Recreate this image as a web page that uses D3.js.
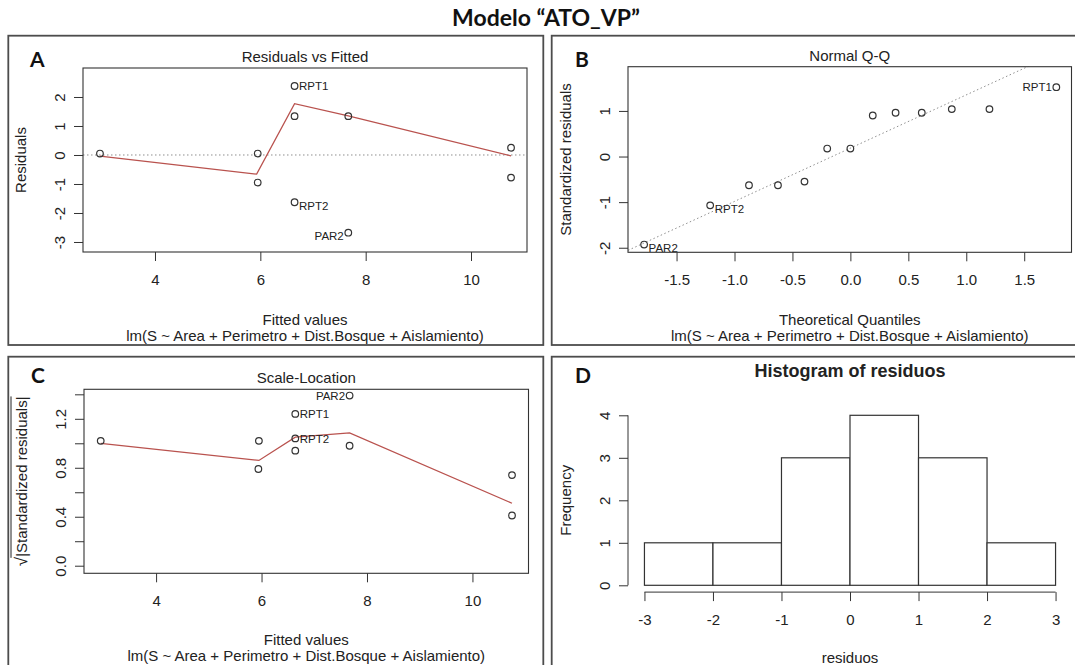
<!DOCTYPE html>
<html><head><meta charset="utf-8">
<script src="https://cdn.jsdelivr.net/npm/d3@7"></script>
<style>
body{margin:0;background:#fff}
svg{display:block}
text{font-family:"Liberation Sans",Arial,sans-serif;fill:#222}
</style>
</head><body><svg id="c" width="1075" height="665"></svg>
<script>
// ---------------- DATA ----------------
const mainTitle = "Modelo \u201CATO_VP\u201D";
const formula = "lm(S ~ Area + Perimetro + Dist.Bosque + Aislamiento)";

// A: Residuals vs Fitted
const fittedA = [2.955, 5.95, 5.95, 6.65, 6.65, 6.65, 7.67, 7.67, 10.76, 10.76];
const residA  = [0.05, 0.05, -0.95, 2.38, 1.34, -1.63, 1.34, -2.68, 0.25, -0.78];
const idA     = ["", "", "", "RPT1", "", "RPT2", "", "PAR2", "", ""];
const lowessAx = [2.955, 5.93, 6.65, 7.67, 10.76];
const lowessAy = [-0.04, -0.66, 1.77, 1.35, -0.03];
const xTicksFit = [4, 6, 8, 10];
const xTickLabelsFit = ["4", "6", "8", "10"];
const yTicksA = [-3, -2, -1, 0, 1, 2];
const yTickLabelsA = ["-3", "-2", "-1", "0", "1", "2"];

// B: Normal Q-Q
const theoQ = [-1.78, -1.21, -0.875, -0.625, -0.396, -0.2, 0, 0.193, 0.39, 0.616, 0.875, 1.2, 1.777];
const stdRes = [-1.93, -1.07, -0.63, -0.63, -0.55, 0.175, 0.175, 0.90, 0.96, 0.96, 1.04, 1.04, 1.52];
const idB    = ["PAR2", "RPT2", "", "", "", "", "", "", "", "", "", "", "RPT1"];
const qqIntercept = 0.184;
const qqSlope = 1.168;
const xTicksB = [-1.5, -1.0, -0.5, 0.0, 0.5, 1.0, 1.5];
const xTickLabelsB = ["-1.5", "-1.0", "-0.5", "0.0", "0.5", "1.0", "1.5"];
const yTicksB = [-2, -1, 0, 1];
const yTickLabelsB = ["-2", "-1", "0", "1"];

// C: Scale-Location
const fittedC = [2.95, 5.95, 5.94, 6.64, 6.64, 6.64, 7.67, 7.67, 10.75, 10.75];
const sqrtStd = [1.02, 1.02, 0.79, 1.24, 1.04, 0.94, 1.39, 0.98, 0.74, 0.41];
const idC     = ["", "", "", "RPT1", "RPT2", "", "PAR2", "", "", ""];
const lowessCx = [2.95, 5.95, 6.64, 7.67, 10.75];
const lowessCy = [1.0, 0.86, 1.05, 1.085, 0.51];
const yTicksC = [0, 0.2, 0.4, 0.6, 0.8, 1.0, 1.2, 1.4];
const yTickLabelsC = ["0.0", "", "0.4", "", "0.8", "", "1.2", ""];

// D: Histogram of residuos
const histBreaks = [-3, -2, -1, 0, 1, 2, 3];
const histCounts = [1, 1, 3, 4, 3, 1];
const xTicksD = [-3, -2, -1, 0, 1, 2, 3];
const xTickLabelsD = ["-3", "-2", "-1", "0", "1", "2", "3"];
const yTicksD = [0, 1, 2, 3, 4];
const yTickLabelsD = ["0", "1", "2", "3", "4"];

// ---------------- DRAW ----------------
const svg = d3.select("#c");
svg.append("rect").attr("width", 1075).attr("height", 665).attr("fill", "#fff");

const FS = 15, INK = "#333", RED = "#b9524e", GRID = "#8f8f8f";

// panel frames
const frames = [
  {x: 8.3, y: 35.7, w: 535, h: 309.3, letter: "A", lx: 30, ly: 67},
  {x: 551.7, y: 35.7, w: 540, h: 309.3, letter: "B", lx: 575, ly: 67},
  {x: 8.3, y: 356.7, w: 535, h: 330, letter: "C", lx: 31, ly: 383},
  {x: 551.7, y: 356.7, w: 540, h: 330, letter: "D", lx: 575, ly: 383}
];
frames.forEach(f => {
  svg.append("rect").attr("x", f.x).attr("y", f.y).attr("width", f.w).attr("height", f.h)
    .attr("fill", "none").attr("stroke", "#4d4d4d").attr("stroke-width", 1.8);
  svg.append("text").attr("x", f.lx).attr("y", f.ly).text(f.letter)
    .style("font-family", "Lato, 'Open Sans', sans-serif").style("font-weight", "bold")
    .style("font-size", "21px").style("fill", "#111");
});

svg.append("text").attr("x", 546).attr("y", 26).attr("text-anchor", "middle").text(mainTitle)
  .style("font-family", "Lato, 'Open Sans', sans-serif").style("font-weight", "bold")
  .style("font-size", "23px").style("fill", "#111");

function bottomAxis(scale, y, ticks, labels, lineSpan) {
  const g = svg.append("g").attr("transform", `translate(0,${y})`);
  g.call(d3.axisBottom(scale).tickValues(ticks).tickSize(9).tickPadding(13)
    .tickFormat((d, i) => labels[i]));
  g.select(".domain").remove();
  g.attr("font-family", null).attr("font-size", null);
  g.selectAll(".tick line").attr("stroke", INK).attr("stroke-width", 1);
  g.selectAll(".tick text").style("font-size", FS + "px").style("fill", "#222");
  if (lineSpan) g.append("line").attr("x1", scale(ticks[0])).attr("x2", scale(ticks[ticks.length - 1]))
    .attr("stroke", INK).attr("stroke-width", 1);
}
function leftAxis(scale, x, ticks, labels, lineSpan) {
  const g = svg.append("g").attr("transform", `translate(${x},0)`);
  g.call(d3.axisLeft(scale).tickValues(ticks).tickSize(9).tickFormat((d, i) => labels[i]));
  g.select(".domain").remove();
  g.attr("font-family", null).attr("font-size", null);
  g.selectAll(".tick line").attr("stroke", INK).attr("stroke-width", 1);
  g.selectAll(".tick text").attr("transform", "rotate(-90)").attr("x", 0).attr("y", -18)
    .attr("dy", 0).attr("text-anchor", "middle").style("font-size", FS + "px").style("fill", "#222");
  if (lineSpan) g.append("line").attr("y1", scale(ticks[0])).attr("y2", scale(ticks[ticks.length - 1]))
    .attr("stroke", INK).attr("stroke-width", 1);
}
function box(b) {
  svg.append("rect").attr("x", b.l).attr("y", b.t).attr("width", b.r - b.l).attr("height", b.b - b.t)
    .attr("fill", "none").attr("stroke", INK).attr("stroke-width", 1.1);
}
function centerText(x, y, str, size, bold) {
  const t = svg.append("text").attr("x", x).attr("y", y).attr("text-anchor", "middle").text(str)
    .style("font-size", size + "px");
  if (bold) t.style("font-weight", "bold");
  return t;
}
function yLabel(x, y, str) {
  return svg.append("text").attr("transform", `translate(${x},${y}) rotate(-90)`)
    .attr("text-anchor", "middle").text(str).style("font-size", FS + "px");
}
function points(g, xs, ys, x, y) {
  g.selectAll(null).data(xs).enter().append("circle")
    .attr("cx", d => x(d)).attr("cy", (d, i) => y(ys[i])).attr("r", 3.3)
    .attr("fill", "none").attr("stroke", "#333").attr("stroke-width", 1.2);
}
function ids(g, xs, ys, names, x, y, dom) {
  const mid = (dom[0] + dom[1]) / 2;
  xs.forEach((d, i) => {
    if (!names[i]) return;
    const right = d < mid;
    g.append("text").attr("x", x(d) + (right ? 4.5 : -4.5))
      .attr("y", y(ys[i]) + (ys[i] < 0 ? 3.5 : 0)).attr("dy", "0.36em")
      .attr("text-anchor", right ? "start" : "end").text(names[i]).style("font-size", "11.5px");
  });
}

// ---- Panel A ----
const bA = {l: 83, r: 527, t: 68, b: 252};
const xA = d3.scaleLinear().domain([2.633, 11.063]).range([bA.l, bA.r]);
const yA = d3.scaleLinear().domain([-3.345, 3.0]).range([bA.b, bA.t]);
const gA = svg.append("g");
gA.append("line").attr("x1", bA.l).attr("x2", bA.r).attr("y1", yA(0)).attr("y2", yA(0))
  .attr("stroke", GRID).attr("stroke-dasharray", "1.5,2.5");
gA.append("path").attr("d", d3.line().x(d => xA(d)).y((d, i) => yA(lowessAy[i]))(lowessAx))
  .attr("fill", "none").attr("stroke", RED).attr("stroke-width", 1.3);
points(gA, fittedA, residA, xA, yA);
ids(gA, fittedA, residA, idA, xA, yA, [2.955, 10.76]);
box(bA);
bottomAxis(xA, bA.b, xTicksFit, xTickLabelsFit);
leftAxis(yA, bA.l, yTicksA, yTickLabelsA);
centerText((bA.l + bA.r) / 2, 61.5, "Residuals vs Fitted", FS);
centerText((bA.l + bA.r) / 2, 324.5, "Fitted values", FS);
centerText((bA.l + bA.r) / 2, 340.5, formula, FS);
yLabel(bA.l - 57, (bA.t + bA.b) / 2, "Residuals");

// ---- Panel B ----
const bB = {l: 628, r: 1071.5, t: 66.7, b: 252.3};
const xB = d3.scaleLinear().domain([-1.919, 1.908]).range([bB.l, bB.r]);
const yB = d3.scaleLinear().domain([-2.10, 1.97]).range([bB.b, bB.t]);
const gB = svg.append("g");
svg.append("clipPath").attr("id", "clipB").append("rect")
  .attr("x", bB.l).attr("y", bB.t).attr("width", bB.r - bB.l).attr("height", bB.b - bB.t);
const qx = xB.domain();
gB.append("line").attr("clip-path", "url(#clipB)")
  .attr("x1", xB(qx[0])).attr("y1", yB(qqIntercept + qqSlope * qx[0]))
  .attr("x2", xB(qx[1])).attr("y2", yB(qqIntercept + qqSlope * qx[1]))
  .attr("stroke", GRID).attr("stroke-dasharray", "1.5,2.5");
points(gB, theoQ, stdRes, xB, yB);
ids(gB, theoQ, stdRes, idB, xB, yB, [theoQ[0], theoQ[theoQ.length - 1]]);
box(bB);
bottomAxis(xB, bB.b, xTicksB, xTickLabelsB);
leftAxis(yB, bB.l, yTicksB, yTickLabelsB);
centerText((bB.l + bB.r) / 2, 61, "Normal Q-Q", FS);
centerText((bB.l + bB.r) / 2, 324.5, "Theoretical Quantiles", FS);
centerText((bB.l + bB.r) / 2, 340.5, formula, FS);
yLabel(bB.l - 57, (bB.t + bB.b) / 2, "Standardized residuals");

// ---- Panel C ----
const bC = {l: 84, r: 528.5, t: 389.3, b: 573.3};
const xC = d3.scaleLinear().domain([2.633, 11.063]).range([bC.l, bC.r]);
const yC = d3.scaleLinear().domain([-0.062, 1.441]).range([bC.b, bC.t]);
const gC = svg.append("g");
gC.append("path").attr("d", d3.line().x(d => xC(d)).y((d, i) => yC(lowessCy[i]))(lowessCx))
  .attr("fill", "none").attr("stroke", RED).attr("stroke-width", 1.3);
points(gC, fittedC, sqrtStd, xC, yC);
ids(gC, fittedC, sqrtStd, idC, xC, yC, [2.95, 10.75]);
box(bC);
bottomAxis(xC, bC.b, xTicksFit, xTickLabelsFit);
leftAxis(yC, bC.l, yTicksC, yTickLabelsC);
centerText((bC.l + bC.r) / 2, 383, "Scale-Location", FS);
centerText((bC.l + bC.r) / 2, 645, "Fitted values", FS);
centerText((bC.l + bC.r) / 2, 661, formula, FS);
// sqrt(|Standardized residuals|) label
{
  const cy = (bC.t + bC.b) / 2;
  const g = svg.append("g").attr("transform", `translate(${bC.l - 57},${cy}) rotate(-90)`);
  const t = g.append("text").attr("text-anchor", "middle").style("font-size", FS + "px");
  const rad = t.append("tspan").text("\u221A").style("font-size", "17px");
  const body = t.append("tspan").text("|Standardized residuals|");
  const bb = t.node().getBBox();
  const rw = rad.node().getComputedTextLength();
  g.append("line").attr("x1", bb.x + rw - 1).attr("x2", bb.x + bb.width)
    .attr("y1", -16).attr("y2", -16).attr("stroke", "#222").attr("stroke-width", 1);
}

// ---- Panel D ----
const bD = {l: 628, r: 1072, t: 408.5, b: 592.1};
const xD = d3.scaleLinear().domain([-3.24, 3.24]).range([bD.l, bD.r]);
const yD = d3.scaleLinear().domain([-0.16, 4.16]).range([bD.b, bD.t]);
const gD = svg.append("g");
gD.selectAll("rect").data(histCounts).enter().append("rect")
  .attr("x", (d, i) => xD(histBreaks[i])).attr("width", (d, i) => xD(histBreaks[i + 1]) - xD(histBreaks[i]))
  .attr("y", d => yD(d)).attr("height", d => yD(0) - yD(d))
  .attr("fill", "#fff").attr("stroke", "#333").attr("stroke-width", 1.2);
bottomAxis(xD, bD.b, xTicksD, xTickLabelsD, true);
leftAxis(yD, bD.l, yTicksD, yTickLabelsD, true);
centerText((bD.l + bD.r) / 2, 377, "Histogram of residuos", 18, true);
centerText((bD.l + bD.r) / 2, 663, "residuos", FS);
yLabel(bD.l - 57, (bD.t + bD.b) / 2, "Frequency");
</script>
</body></html>
